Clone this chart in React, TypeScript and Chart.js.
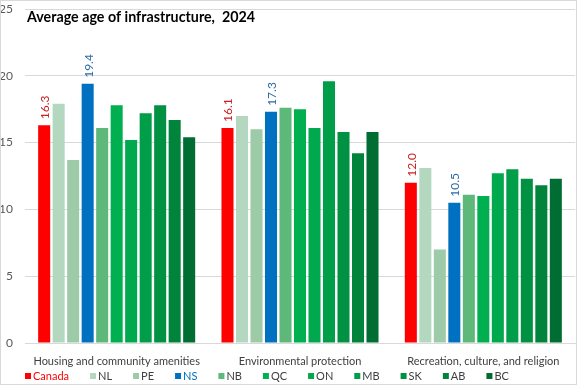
import React, { useEffect, useRef } from "react";
import { Chart, registerables } from "chart.js";

Chart.register(...registerables);

const categories = [
  "Housing and community amenities",
  "Environmental protection",
  "Recreation, culture, and religion",
];
const regions = ["Canada", "NL", "PE", "NS", "NB", "QC", "ON", "MB", "SK", "AB", "BC"];
const canada = [16.3, 16.1, 12.0];
const nl = [17.9, 17.0, 13.1];
const pe = [13.7, 16.0, 7.0];
const ns = [19.4, 17.3, 10.5];
const nb = [16.1, 17.6, 11.1];
const qc = [17.8, 17.5, 11.0];
const on = [15.2, 16.1, 12.7];
const mb = [17.2, 19.6, 13.0];
const sk = [17.8, 15.8, 12.3];
const ab = [16.7, 14.2, 11.8];
const bc = [15.4, 15.8, 12.3];
const yTicks = [0, 5, 10, 15, 20, 25];
const title = "Average age of infrastructure,  2024";

const seriesValues = [canada, nl, pe, ns, nb, qc, on, mb, sk, ab, bc];
const colors = [
  "#FF0000", "#B3D8BF", "#9DCBA7", "#0070C0", "#5DB87A", "#00B050",
  "#00A84E", "#009E48", "#009242", "#00843C", "#006E33",
];
const legendTextColors = [
  "#FF0000", "#404040", "#404040", "#0070C0", "#404040", "#404040",
  "#404040", "#404040", "#404040", "#404040", "#404040",
];
const labelColors: Record<number, string> = { 0: "#C81E1E", 3: "#2E6BA8" };

const FONT = "Lato, Roboto, sans-serif";

export default function App() {
  const ref = useRef<HTMLCanvasElement | null>(null);
  useEffect(() => {
    document.body.style.margin = "0";
    const canvas = ref.current!;
    const bgPlugin = {
      id: "bg",
      beforeDraw(chart: any) {
        const ctx = chart.ctx;
        ctx.save();
        ctx.fillStyle = "#FFFFFF";
        ctx.fillRect(0, 0, chart.width, chart.height);
        ctx.restore();
      },
      afterDraw(chart: any) {
        const ctx = chart.ctx;
        ctx.save();
        ctx.strokeStyle = "#D9D9D9";
        ctx.lineWidth = 1;
        ctx.strokeRect(0.5, 0.5, chart.width - 1, chart.height - 1);
        // title
        ctx.fillStyle = "#000000";
        ctx.font = `bold 15px ${FONT}`;
        ctx.textAlign = "left";
        ctx.textBaseline = "alphabetic";
        const tw = ctx.measureText(title).width;
        const sx = Math.min(1, 228 / tw);
        ctx.save();
        ctx.translate(27, 22);
        ctx.scale(sx, 1);
        ctx.fillText(title, 0, 0);
        ctx.restore();
        // legend
        ctx.font = `11px ${FONT}`;
        ctx.textBaseline = "middle";
        let x = 25;
        const y = 376;
        chart.data.datasets.forEach((ds: any, i: number) => {
          ctx.fillStyle = ds.backgroundColor;
          ctx.fillRect(x, y - 3, 6, 6);
          ctx.fillStyle = legendTextColors[i];
          ctx.fillText(ds.label, x + 8, y);
          const w = ctx.measureText(ds.label).width;
          x += 8 + w + 21;
        });
        ctx.restore();
      },
    };
    const valueLabels = {
      id: "valueLabels",
      afterDatasetsDraw(chart: any) {
        const ctx = chart.ctx;
        ctx.save();
        ctx.font = `12px ${FONT}`;
        ctx.textAlign = "left";
        ctx.textBaseline = "middle";
        Object.keys(labelColors).forEach((k) => {
          const di = Number(k);
          const meta = chart.getDatasetMeta(di);
          meta.data.forEach((bar: any, i: number) => {
            const v = chart.data.datasets[di].data[i];
            ctx.save();
            ctx.translate(bar.x + 1, bar.y - 6);
            ctx.rotate(-Math.PI / 2);
            ctx.fillStyle = labelColors[di];
            ctx.fillText(v.toFixed(1), 0, 0);
            ctx.restore();
          });
        });
        ctx.restore();
      },
    };
    const chart = new Chart(canvas, {
      type: "bar",
      data: {
        labels: categories,
        datasets: regions.map((r, i) => ({
          label: r,
          data: seriesValues[i],
          backgroundColor: colors[i],
          categoryPercentage: 0.87,
          barPercentage: 0.83,
        })),
      },
      options: {
        animation: false,
        responsive: false,
        maintainAspectRatio: false,
        layout: { padding: { top: 9, right: 2, bottom: 18, left: 0 } },
        plugins: {
          legend: { display: false },
          title: { display: false },
          tooltip: { enabled: false },
        },
        scales: {
          x: {
            grid: { display: false },
            border: { display: true, color: "#D9D9D9" },
            ticks: {
              color: "#404040",
              font: { family: FONT, size: 11 },
              padding: 4,
              maxRotation: 0,
              autoSkip: false,
            },
            afterFit(scale: any) {
              scale.height = 24;
            },
          },
          y: {
            min: 0,
            max: 25,
            afterBuildTicks(scale: any) {
              scale.ticks = yTicks.map((v) => ({ value: v }));
            },
            grid: { color: "#D9D9D9", drawTicks: false },
            border: { display: false },
            ticks: { color: "#595959", font: { family: FONT, size: 12 }, padding: 12 },
            afterFit(scale: any) {
              scale.width = 25;
              scale.paddingTop = 0;
              scale.paddingBottom = 0;
            },
          },
        },
      },
      plugins: [bgPlugin, valueLabels],
    });
    return () => chart.destroy();
  }, []);
  return (
    <div style={{ width: 577, height: 385 }}>
      <canvas ref={ref} width={577} height={385} style={{ display: "block" }} />
    </div>
  );
}
